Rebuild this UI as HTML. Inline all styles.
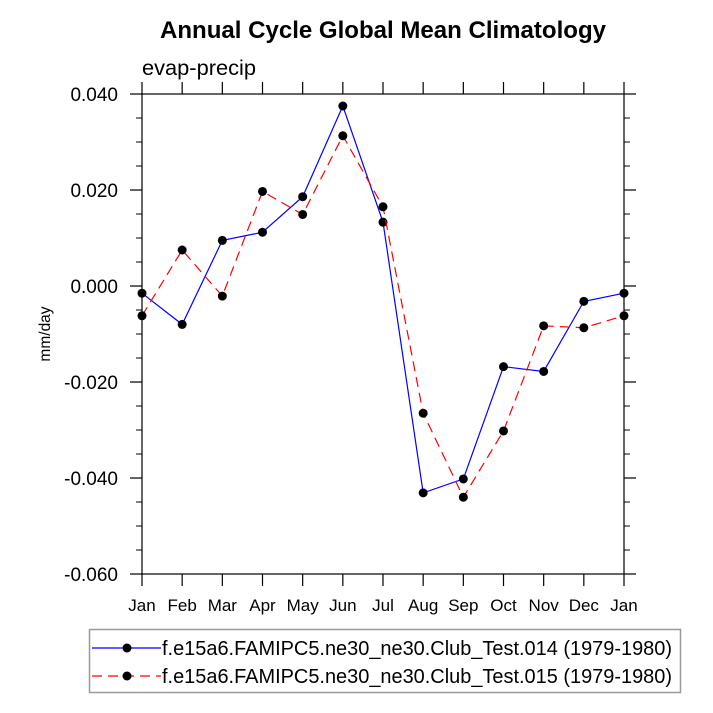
<!DOCTYPE html>
<html><head><meta charset="utf-8"><style>
body{margin:0;background:#fff;}
svg{display:block;font-family:"Liberation Sans",Helvetica,Arial,sans-serif;}
</style></head><body>
<svg id="chart" width="713" height="713" viewBox="0 0 713 713">
<text x="383" y="38" text-anchor="middle" font-size="24" font-weight="bold" textLength="446" lengthAdjust="spacingAndGlyphs">Annual Cycle Global Mean Climatology</text>
<text x="142" y="75" font-size="21" textLength="114" lengthAdjust="spacingAndGlyphs">evap-precip</text>
<text transform="translate(50,334) rotate(-90)" text-anchor="middle" font-size="15.5">mm/day</text>
<g id="axes"></g>
<g id="series"></g>
<g>
<rect x="89.5" y="629.5" width="591" height="63" fill="#fff" stroke="#999" stroke-width="1.5"/>
<line x1="92" y1="648" x2="161" y2="648" stroke="#0000ff" stroke-width="1.2"/>
<circle cx="127" cy="648" r="4.5" fill="#000"/>
<text x="162" y="655" font-size="20" textLength="510" lengthAdjust="spacingAndGlyphs">f.e15a6.FAMIPC5.ne30_ne30.Club_Test.014 (1979-1980)</text>
<line x1="92" y1="676" x2="161" y2="676" stroke="#ff0000" stroke-width="1.2" stroke-dasharray="10,6"/>
<circle cx="127" cy="676" r="4.5" fill="#000"/>
<text x="162" y="683" font-size="20" textLength="510" lengthAdjust="spacingAndGlyphs">f.e15a6.FAMIPC5.ne30_ne30.Club_Test.015 (1979-1980)</text>
</g>
</svg>
<script>
const months = ["Jan","Feb","Mar","Apr","May","Jun","Jul","Aug","Sep","Oct","Nov","Dec","Jan"];
const test014 = [-0.0015,-0.0080,0.0095,0.0112,0.0186,0.0375,0.0133,-0.0431,-0.0402,-0.0168,-0.0178,-0.0032,-0.0015];
const test015 = [-0.0062,0.0075,-0.0021,0.0197,0.0149,0.0313,0.0165,-0.0265,-0.0440,-0.0302,-0.0083,-0.0087,-0.0062];
const yTicks = [0.040,0.020,0.000,-0.020,-0.040,-0.060];
const yTickLabels = ["0.040","0.020","0.000","-0.020","-0.040","-0.060"];

const L=142,R=624,T=94,B=574,yMin=-0.06,yMax=0.04;
const NS="http://www.w3.org/2000/svg";
function xs(i){return L+(R-L)*i/(months.length-1);}
function ys(v){return B-(v-yMin)/(yMax-yMin)*(B-T);}
function mk(tag,attrs,parent){const e=document.createElementNS(NS,tag);for(const k in attrs)e.setAttribute(k,attrs[k]);parent.appendChild(e);return e;}
const axes=document.getElementById('axes'), series=document.getElementById('series');
const frame=mk('rect',{x:L,y:T,width:R-L,height:B-T,fill:'none',stroke:'#000','stroke-width':1.2},axes);


yTicks.forEach((v,i)=>{
  const y=ys(v);
  mk('line',{x1:L-12,y1:y,x2:L,y2:y,stroke:'#000','stroke-width':1.2},axes);
  mk('line',{x1:R,y1:y,x2:R+12,y2:y,stroke:'#000','stroke-width':1.2},axes);
  const t=mk('text',{x:L-24,y:y+7,'text-anchor':'end','font-size':19},axes);
  t.textContent=yTickLabels[i];
  
  
});
for(let v=yMin;v<=yMax+1e-9;v+=0.005){
  const y=ys(v);
  mk('line',{x1:L-6,y1:y,x2:L,y2:y,stroke:'#000','stroke-width':1},axes);
  mk('line',{x1:R,y1:y,x2:R+6,y2:y,stroke:'#000','stroke-width':1},axes);
}
months.forEach((m,i)=>{
  const x=xs(i);
  mk('line',{x1:x,y1:B,x2:x,y2:B+12,stroke:'#000','stroke-width':1.2},axes);
  mk('line',{x1:x,y1:T-12,x2:x,y2:T,stroke:'#000','stroke-width':1.2},axes);
  const t=mk('text',{x:x,y:B+37,'text-anchor':'middle','font-size':17},axes);
  t.textContent=m;
  
  
});
function drawSeries(vals,color,dash,name){
  const pts=vals.map((v,i)=>xs(i)+','+ys(v)).join(' ');
  const pl=mk('polyline',{points:pts,fill:'none',stroke:color,'stroke-width':1.2},series);
  if(dash)pl.setAttribute('stroke-dasharray',dash);
  
  
  vals.forEach((v,i)=>{
    const c=mk('circle',{cx:xs(i),cy:ys(v),r:4.5,fill:'#000'},series);
    
    
  });
}
drawSeries(test014,'#0000ff',null,'test-014');
drawSeries(test015,'#ff0000','10,6','test-015');
</script>
</body></html>
